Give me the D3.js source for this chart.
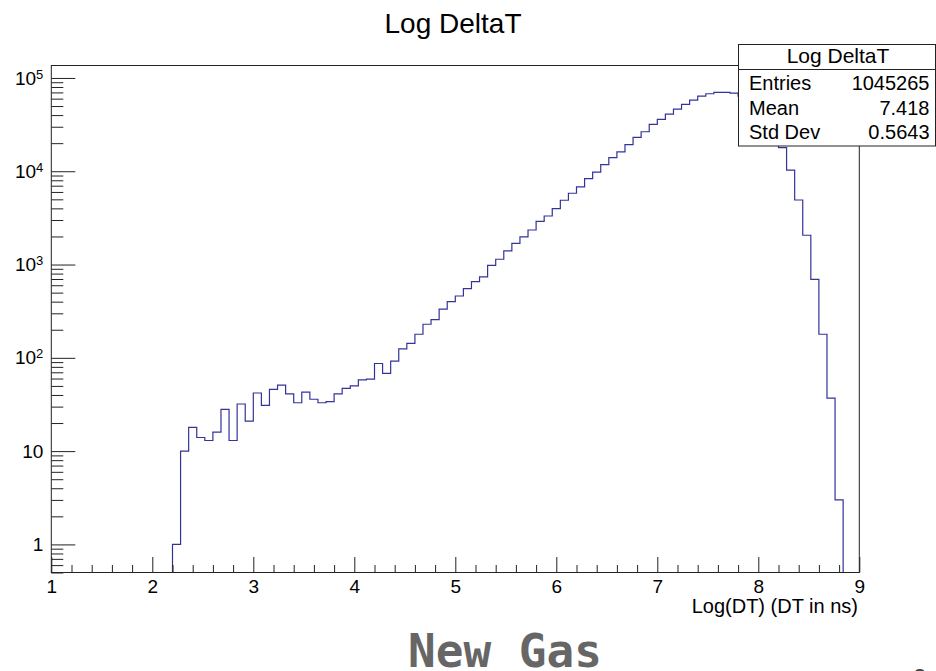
<!DOCTYPE html>
<html>
<head>
<meta charset="utf-8">
<script src="https://cdn.jsdelivr.net/npm/d3@7"></script>
<style>
  body { margin: 0; background: #fff; }
  text { font-family: "Liberation Sans", Arial, Helvetica, sans-serif; fill: #000; }
</style>
</head>
<body>
<div id="chart-area"></div>
<script>
// Histogram "Log DeltaT": 100 bins between 1 and 9
const X_MIN = 1
const X_MAX = 9
const N_BINS = 100

// bin contents, bin 0 .. bin 99
const counts = [
  0, 0, 0, 0, 0, 0, 0, 0, 0, 0,
  0, 0, 0, 0, 0, 1, 10, 18, 14, 13,
  16, 28, 13, 32, 21, 42, 31, 46, 51, 41,
  33, 43, 36, 33, 34, 41, 47, 50, 58, 59,
  87, 68, 92, 125, 143, 179, 229, 257, 332, 400,
  460, 552, 656, 736, 980, 1140, 1400, 1690, 1977, 2346,
  2909, 3314, 3970, 4890, 5808, 6790, 8330, 9770, 11760, 14000,
  16100, 19300, 23100, 26500, 31800, 36000, 41000, 46400, 52100, 57900,
  63900, 67700, 70200, 70200, 68900, 64000, 57000, 48000, 37000, 27000,
  17900, 10300, 4920, 2060, 695, 179, 37, 3, 0, 0
]

const xTickValues = [1, 2, 3, 4, 5, 6, 7, 8, 9]
const yTickValues = [1, 10, 100, 1000, 10000, 100000]
const yDomain = [0.5, 136000]

const statLabels = ["Entries", "Mean", "Std Dev"]
const statValues = ["1045265", "7.418", "0.5643"]

const WIDTH = 936
const HEIGHT = 671
const FRAME = { LEFT: 51.3, RIGHT: 859.3, TOP: 65.5, BOTTOM: 572.5 }

const svg = d3.select("#chart-area").append("svg")
  .attr("width", WIDTH)
  .attr("height", HEIGHT)

// Scales
const x = d3.scaleLinear()
  .domain([X_MIN, X_MAX])
  .range([FRAME.LEFT, FRAME.RIGHT])
const y = d3.scaleLog()
  .domain(yDomain)
  .range([FRAME.BOTTOM, FRAME.TOP])

const binWidth = (X_MAX - X_MIN) / N_BINS

// Title
svg.append("text")
  .attr("x", 453)
  .attr("y", 33)
  .attr("font-size", "28px")
  .attr("text-anchor", "middle")
  .text("Log DeltaT")

// Histogram outline (empty bins sit on the bottom of the frame)
const steps = counts.map((c, i) => ({ x: X_MIN + i * binWidth, v: c }))
steps.push({ x: X_MAX, v: 0 })

const histLine = d3.line()
  .x(d => x(d.x))
  .y(d => d.v > 0 ? y(d.v) : FRAME.BOTTOM)
  .curve(d3.curveStepAfter)

svg.append("path")
  .datum(steps)
  .attr("fill", "none")
  .attr("stroke", "#333399")
  .attr("stroke-width", 1.2)
  .attr("d", histLine)

// X Axis: major ticks on integers, minor every 0.2
const xMinor = d3.range(0, 41).map(i => X_MIN + i * 0.2).filter(v => Math.abs(v - Math.round(v)) > 1e-6)

svg.append("g")
  .attr("transform", `translate(0, ${FRAME.BOTTOM})`)
  .call(d3.axisBottom(x).tickValues(xMinor).tickSize(-7.5).tickFormat(""))
  .call(g => g.select(".domain").remove())

svg.append("g")
  .attr("class", "x axis")
  .attr("transform", `translate(0, ${FRAME.BOTTOM})`)
  .call(d3.axisBottom(x).tickValues(xTickValues).tickSize(-15.5).tickPadding(7).tickFormat(d3.format("d")))
  .call(g => g.select(".domain").remove())
  .selectAll("text")
  .attr("font-size", "19px")
  .attr("font-family", "'Liberation Sans', Arial, sans-serif")
  .attr("fill", "#000")

// X Label
svg.append("text")
  .attr("x", 858)
  .attr("y", 613)
  .attr("font-size", "20px")
  .attr("text-anchor", "end")
  .text("Log(DT) (DT in ns)")

// Y Axis: decades with minor ticks 2..9
const yMinor = []
for (let e = -1; e <= 4; e++) {
  for (let k = 2; k <= 9; k++) {
    const v = k * Math.pow(10, e)
    if (v >= yDomain[0] && v <= yDomain[1]) yMinor.push(v)
  }
}

svg.append("g")
  .attr("transform", `translate(${FRAME.LEFT}, 0)`)
  .call(d3.axisLeft(y).tickValues(yMinor).tickSize(-12).tickFormat(""))
  .call(g => g.select(".domain").remove())

const yAxisG = svg.append("g")
  .attr("class", "y axis")
  .attr("transform", `translate(${FRAME.LEFT}, 0)`)
  .call(d3.axisLeft(y).tickValues(yTickValues).tickSize(-24).tickPadding(8).tickFormat(""))
  .call(g => g.select(".domain").remove())

yAxisG.selectAll(".tick text")
  .attr("font-size", "19px")
  .attr("font-family", "'Liberation Sans', Arial, sans-serif")
  .attr("fill", "#000")
  .each(function(d) {
    const exp = Math.round(Math.log10(d))
    const t = d3.select(this)
    if (exp < 2) {
      t.text(String(d))
    } else {
      t.append("tspan").text("10")
      t.append("tspan")
        .attr("font-size", "13px")
        .attr("dy", "-6")
        .text(String(exp))
    }
  })

svg.selectAll(".tick line").attr("stroke", "#222")

// Frame
svg.append("rect")
  .attr("x", FRAME.LEFT)
  .attr("y", FRAME.TOP)
  .attr("width", FRAME.RIGHT - FRAME.LEFT)
  .attr("height", FRAME.BOTTOM - FRAME.TOP)
  .attr("fill", "none")
  .attr("stroke", "#222")
  .attr("stroke-width", 1)

// Stats box
const box = svg.append("g")
box.append("rect")
  .attr("x", 738.5)
  .attr("y", 44.5)
  .attr("width", 197)
  .attr("height", 101.5)
  .attr("fill", "#fff")
  .attr("stroke", "#222")
box.append("line")
  .attr("x1", 738.5).attr("x2", 935.5)
  .attr("y1", 69.5).attr("y2", 69.5)
  .attr("stroke", "#222")
box.append("text")
  .attr("x", 838)
  .attr("y", 63)
  .attr("font-size", "21px")
  .attr("text-anchor", "middle")
  .text("Log DeltaT")

box.selectAll(".stat-label")
  .data(statLabels)
  .enter().append("text")
  .attr("class", "stat-label")
  .attr("x", 749)
  .attr("y", (d, i) => 90 + i * 24.7)
  .attr("font-size", "20px")
  .text(d => d)

box.selectAll(".stat-value")
  .data(statValues)
  .enter().append("text")
  .attr("class", "stat-value")
  .attr("x", 929.5)
  .attr("y", (d, i) => 90 + i * 24.7)
  .attr("font-size", "20px")
  .attr("text-anchor", "end")
  .text(d => d)

// Slide caption under the plot
svg.append("text")
  .attr("x", 505)
  .attr("y", 667)
  .attr("font-size", "46px")
  .attr("font-weight", "bold")
  .attr("text-anchor", "middle")
  .style("font-family", "'DejaVu Sans Mono', monospace")
  .style("fill", "#666")
  .text("New Gas")

// page number, cut off at the bottom edge
svg.append("text")
  .attr("x", 913)
  .attr("y", 686)
  .attr("font-size", "24px")
  .style("fill", "#444")
  .text("2")
</script>
</body>
</html>
